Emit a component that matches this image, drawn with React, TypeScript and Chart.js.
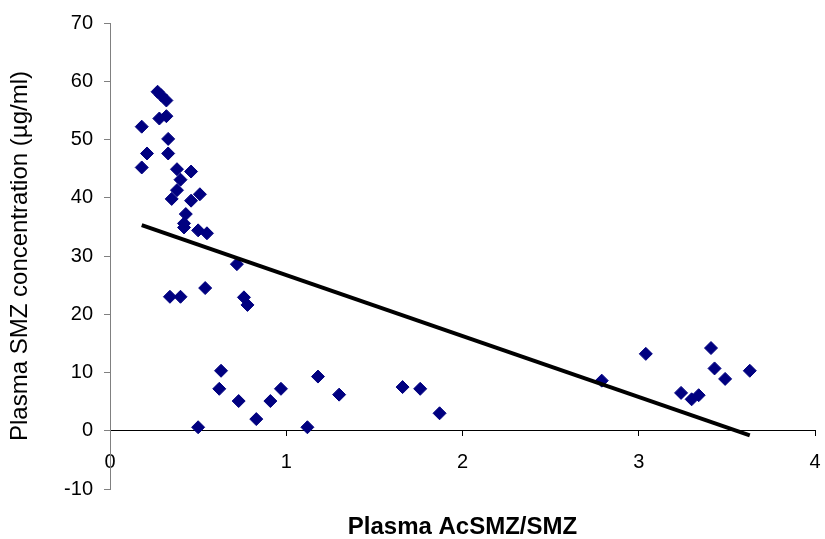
import React, { useEffect, useRef } from "react";
import { Chart, registerables } from "chart.js";

Chart.register(...registerables);

const xValues = [
  0.18, 0.18, 0.21, 0.27, 0.29, 0.32, 0.28, 0.32, 0.33, 0.33,
  0.35, 0.38, 0.38, 0.4, 0.46, 0.43, 0.42, 0.42, 0.46, 0.51,
  0.5, 0.55, 0.34, 0.4, 0.54, 0.72, 0.76, 0.78, 0.63, 0.62,
  0.5, 0.73, 0.83, 0.91, 0.97, 1.12, 1.18, 1.3, 1.66, 1.76,
  1.87, 2.79, 3.04, 3.24, 3.3, 3.34, 3.41, 3.43, 3.49, 3.63,
];
const yValues = [
  52.2, 45.2, 47.6, 58.2, 57.6, 56.7, 53.6, 54.0, 50.1, 47.6,
  39.8, 41.3, 44.9, 43.1, 44.5, 37.2, 35.6, 34.9, 39.5, 40.6,
  34.4, 33.9, 23.0, 23.0, 24.5, 28.6, 22.9, 21.6, 10.3, 7.2,
  0.6, 5.1, 2.0, 5.1, 7.2, 0.6, 9.3, 6.2, 7.5, 7.2,
  3.0, 8.6, 13.2, 6.5, 5.4, 6.1, 14.2, 10.7, 8.9, 10.3,
];
const trendX = [0.18, 3.63];
const trendY = [35.3, -0.8];

const xTitle = "Plasma AcSMZ/SMZ";
const yTitle = "Plasma SMZ concentration (µg/ml)";
const xMin = 0, xMax = 4, xStep = 1;
const yMin = -10, yMax = 70, yStep = 10;

export default function App() {
  const ref = useRef<HTMLCanvasElement>(null);
  useEffect(() => {
    document.body.style.margin = "0";
    Chart.defaults.font.family = "'Liberation Sans', Arial, sans-serif";
    Chart.defaults.color = "#000";
    const ctx = ref.current!;
    const chart = new Chart(ctx, {
      type: "scatter",
      data: {
        datasets: [
          {
            label: "trend",
            data: trendX.map((x, i) => ({ x, y: trendY[i] })),
            showLine: true,
            borderColor: "#000",
            borderWidth: 4,
            pointRadius: 0,
            fill: false,
          },
          {
            label: "data",
            data: xValues.map((x, i) => ({ x, y: yValues[i] })),
            pointStyle: "rectRot",
            pointRadius: 6.5,
            backgroundColor: "#000080",
            borderColor: "#000080",
            borderWidth: 1,
          },
        ],
      },
      options: {
        animation: false,
        responsive: false,
        layout: { padding: { top: 21, right: 10, bottom: 0, left: 0 } },
        plugins: {
          legend: { display: false },
          tooltip: { enabled: false },
          title: {
            display: true,
            position: "bottom",
            fullSize: false,
            text: xTitle,
            font: { size: 24, weight: "bold", lineHeight: 1.0 },
            color: "#000",
            padding: { top: 26, bottom: 0 },
          },
        },
        scales: {
          x: {
            type: "linear",
            position: { y: 0 },
            min: xMin,
            max: xMax,
            ticks: {
              stepSize: xStep,
              font: { size: 20, lineHeight: 2.5 },
              color: "#000",
              padding: 2,
            },
            grid: { drawOnChartArea: false, drawTicks: true, tickLength: 5, color: "#000" },
            border: { display: true, color: "#000", width: 1 },
          },
          y: {
            type: "linear",
            position: "left",
            min: yMin,
            max: yMax,
            ticks: { stepSize: yStep, font: { size: 20 }, color: "#000", padding: 11 },
            grid: { drawOnChartArea: false, drawTicks: true, tickLength: 6, color: "#808080" },
            border: { display: true, color: "#808080", width: 1 },
            title: {
              display: true,
              text: yTitle,
              font: { size: 24 },
              color: "#000",
              padding: { top: 6, bottom: 4 },
            },
            afterFit: (s: any) => {
              s.width = 110;
            },
          },
        },
      },
    });
    return () => chart.destroy();
  }, []);
  return (
    <div style={{ width: 825, height: 539 }}>
      <canvas ref={ref} width={825} height={539} style={{ display: "block" }} />
    </div>
  );
}
